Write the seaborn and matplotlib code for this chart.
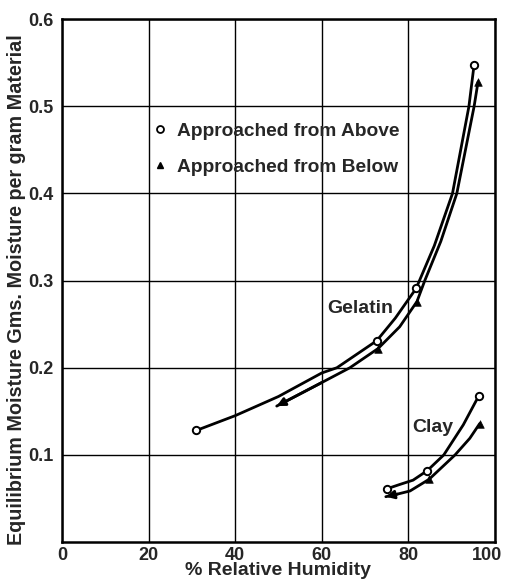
import numpy as np
import pandas as pd
import seaborn as sns
from matplotlib import pyplot as plt
from matplotlib.lines import Line2D
from matplotlib.transforms import ScaledTranslation

gel_above_x = [31.0, 72.7, 81.8, 95.2]
gel_above_y = [0.128, 0.231, 0.291, 0.548]
gel_below_x = [73.0, 82.0, 96.1]
gel_below_y = [0.222, 0.276, 0.528]
clay_above_x = [75.0, 84.4, 96.3]
clay_above_y = [0.061, 0.082, 0.168]
clay_below_x = [84.8, 96.5]
clay_below_y = [0.072, 0.136]

# hand drawn curves
gel_above_cx = [31.0, 40.0, 50.0, 60.0, 63.5, 72.7, 77.0, 81.8, 86.0, 90.2, 94.0, 95.2]
gel_above_cy = [0.128, 0.145, 0.167, 0.194, 0.200, 0.231, 0.257, 0.291, 0.340, 0.400, 0.500, 0.548]
gel_below_cx = [49.6, 60.0, 66.5, 73.0, 78.0, 82.0, 83.8, 87.5, 91.2, 95.2, 96.1]
gel_below_cy = [0.156, 0.183, 0.200, 0.222, 0.247, 0.276, 0.300, 0.345, 0.400, 0.500, 0.528]
clay_above_cx = [75.0, 78.0, 81.1, 84.4, 88.2, 92.7, 96.3]
clay_above_cy = [0.061, 0.066, 0.071, 0.082, 0.100, 0.1345, 0.168]
clay_below_cx = [74.8, 77.5, 80.4, 84.8, 90.8, 94.2, 96.5]
clay_below_cy = [0.052, 0.055, 0.0586, 0.072, 0.100, 0.119, 0.136]

x_ticks = [0, 20, 40, 60, 80, 100]
y_ticks = [0.1, 0.2, 0.3, 0.4, 0.5, 0.6]

sns.set_style("white")
plt.rcParams['font.family'] = ['Liberation Sans', 'DejaVu Sans']
plt.rcParams['font.weight'] = 'bold'
plt.rcParams['axes.labelweight'] = 'bold'

fig = plt.figure(figsize=(5.05, 5.82), dpi=100)
ax = fig.add_axes([0.1228, 0.0687, 0.8572, 0.8983])

lw = 2.0
curves = [(gel_above_cx, gel_above_cy), (gel_below_cx, gel_below_cy),
          (clay_above_cx, clay_above_cy), (clay_below_cx, clay_below_cy)]
for cx, cy in curves:
    d = pd.DataFrame({'x': cx, 'y': cy})
    sns.lineplot(data=d, x='x', y='y', sort=False, color='black', lw=lw, ax=ax)

# arrowheads at the lower ends of the "from below" curves
for cx, cy in [(gel_below_cx, gel_below_cy), (clay_below_cx, clay_below_cy)]:
    ax.annotate('', xy=(cx[0], cy[0]), xytext=(cx[1], cy[1]),
                arrowprops=dict(arrowstyle='-|>', color='black', lw=lw,
                                mutation_scale=12, shrinkA=0, shrinkB=0))

above = pd.DataFrame({'x': gel_above_x + clay_above_x, 'y': gel_above_y + clay_above_y})
below = pd.DataFrame({'x': gel_below_x + clay_below_x, 'y': gel_below_y + clay_below_y})
sns.scatterplot(data=above, x='x', y='y', marker='o', s=28, facecolor='white',
                edgecolor='black', linewidth=1.4, zorder=5, ax=ax)
sns.scatterplot(data=below, x='x', y='y', marker='^', s=30, color='black',
                edgecolor='black', zorder=5, ax=ax)

ax.text(68.8, 0.268, 'Gelatin', fontsize=14, ha='center', va='center')
ax.text(85.7, 0.131, 'Clay', fontsize=14, ha='center', va='center')

handles = [Line2D([], [], ls='', marker='o', mfc='white', mec='black', ms=5, mew=1.3),
           Line2D([], [], ls='', marker='^', color='black', ms=5)]
ax.legend(handles, ['Approached from Above', 'Approached from Below'],
          loc='upper left', bbox_to_anchor=(0.16, 0.835), frameon=False,
          fontsize=13.8, handletextpad=0.3, labelspacing=0.95, handlelength=1.2)

ax.set_xlim(0, 100)
ax.set_ylim(0, 0.6)
ax.set_xticks(x_ticks)
ax.set_yticks(y_ticks)
ax.set_xticklabels([str(v) for v in x_ticks])
ax.set_yticklabels([f'{v:.1f}' for v in y_ticks])
ax.tick_params(labelsize=13, length=0)
ax.tick_params(axis='x', pad=3.5)
ax.tick_params(axis='y', pad=6)
# the last x label sits a little inside the right edge in the original
last = ax.get_xticklabels()[-1]
last.set_transform(last.get_transform() + ScaledTranslation(-0.08, 0, fig.dpi_scale_trans))
ax.grid(True, color='black', lw=1.0)
for s in ax.spines.values():
    s.set_color('black')
    s.set_linewidth(1.8)

ax.set_xlabel('% Relative Humidity', fontsize=14, labelpad=-1)
ax.set_ylabel('Equilibrium Moisture Gms. Moisture per gram Material', fontsize=14.2)
ax.yaxis.set_label_coords(-0.083, 0.482)

fig.savefig('out.png', dpi=100)
